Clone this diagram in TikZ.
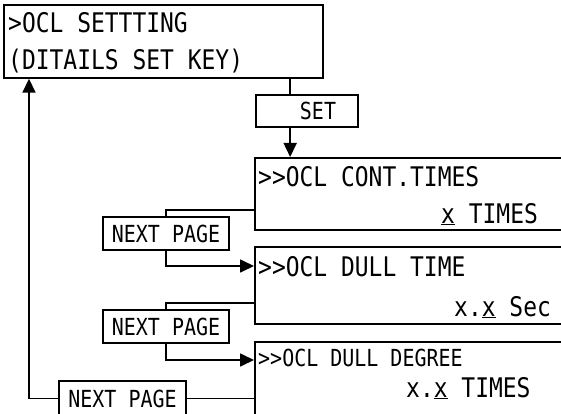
\documentclass[tikz,border=0pt]{standalone}
\usepackage{fontspec}
\usetikzlibrary{positioning}
\usetikzlibrary{calc}
\usetikzlibrary{arrows.meta}

\newfontfamily\panelfont[FakeStretch=0.85]{DejaVu Sans Mono}
\newcommand{\bigpanel}{\panelfont\fontsize{27}{30}\selectfont}
\newcommand{\smallpanel}{\panelfont\fontsize{23.5}{28}\selectfont}

\tikzset{
    screen/.style={draw, line width=1.7pt, anchor=north west, inner sep=0pt},
    keybox/.style={draw, line width=1.7pt, inner sep=0pt, minimum width=126pt, minimum height=33pt, font=\smallpanel},
    bigline/.style={anchor=base west, inner sep=0pt, font=\bigpanel},
    smallline/.style={anchor=base west, inner sep=0pt, font=\smallpanel},
    link/.style={line width=1.7pt},
    linkarrow/.style={line width=1.7pt, -{Triangle[length=14pt, width=13pt]}},
}

\begin{document}
\begin{tikzpicture}[x=1pt, y=-1pt]
    \clip (0,0) rectangle (561,414);
    % screens
    \node[screen, minimum width=319pt, minimum height=73pt] (setting) at (3,4) {};
    \node[bigline] (settingA) at (8,33) {>OCL SETTTING};
    \node[bigline] (settingB) at (8,70) {(DITAILS SET KEY)};

    \node[screen, minimum width=340pt, minimum height=72pt] (cont) at (254,157) {};
    \node[bigline] (contA) at (258,186) {>\kern0pt>OCL CONT.TIMES};
    \node[bigline] (contB) at (441,223) {\underline{x} TIMES};

    \node[screen, minimum width=340pt, minimum height=77pt] (dulltime) at (254,246) {};
    \node[bigline] (dulltimeA) at (258,276) {>\kern0pt>OCL DULL TIME};
    \node[bigline] (dulltimeB) at (454,316) {x.\underline{x} Sec};

    \node[screen, minimum width=340pt, minimum height=90pt] (dulldegree) at (254,341) {};
    \node[smallline] (dulldegreeA) at (258,366) {>\kern0pt>OCL DULL DEGREE};
    \node[bigline] (dulldegreeB) at (406,397) {x.\underline{x} TIMES};

    % keys
    \node[keybox, minimum width=102pt, minimum height=32pt] (set) at (307,111) {};
    \node[smallline, anchor=center] (setlabel) at (318,111) {SET};
    \node[keybox] (next1) at (166,233.5) {NEXT PAGE};
    \node[keybox] (next2) at (166,326.5) {NEXT PAGE};
    \node[keybox, minimum width=127pt, minimum height=35pt] (next3) at (122.5,398.5) {NEXT PAGE};

    % connectors
    \coordinate (setdrop) at ($(set.north west)+(35,0)$);
    \draw[link] (setdrop |- setting.south) -- (setdrop);
    \draw[linkarrow] (setdrop |- set.south) -- (setdrop |- cont.north);
    \draw[link] ($(cont.north west)+(0,53)$) -| (next1.north);
    \draw[linkarrow] (next1.south) |- ($(dulltime.north west)+(0,20)$);
    \draw[link] ($(dulltime.north west)+(0,57)$) -| (next2.north);
    \draw[linkarrow] (next2.south) |- ($(dulldegree.north west)+(0,19)$);
    \draw[link] (next3.east) -- (next3.east -| dulldegree.west);
    \draw[linkarrow] (next3.west) -| ($(setting.south west)+(26,0)$);
\end{tikzpicture}
\end{document}
